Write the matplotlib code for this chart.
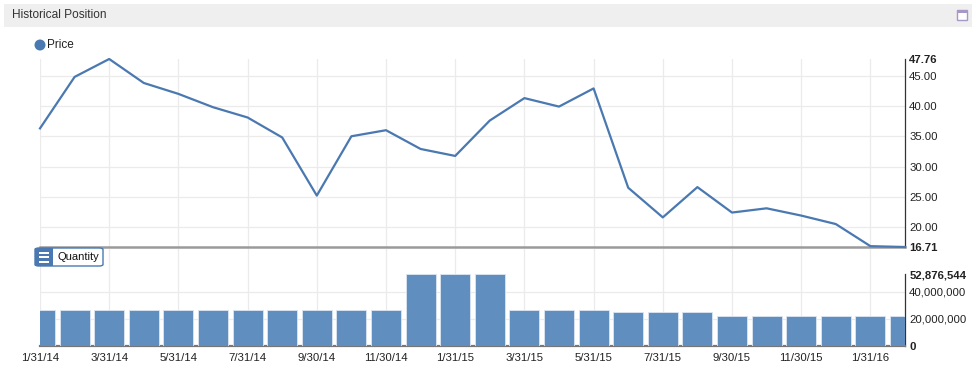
import numpy as np
import matplotlib.pyplot as plt
from matplotlib.patches import Rectangle, FancyBboxPatch, Ellipse

# month-end dates (category axis)
dates = ['1/31/14', '2/28/14', '3/31/14', '4/30/14', '5/31/14', '6/30/14',
         '7/31/14', '8/31/14', '9/30/14', '10/31/14', '11/30/14', '12/31/14',
         '1/31/15', '2/28/15', '3/31/15', '4/30/15', '5/31/15', '6/30/15',
         '7/31/15', '8/31/15', '9/30/15', '10/31/15', '11/30/15', '12/31/15',
         '1/31/16', '2/29/16']
price = [36.3, 44.8, 47.76, 43.8, 42.0, 39.8, 38.1, 34.8, 25.2, 35.0, 36.0, 32.9,
         31.75, 37.6, 41.3, 39.9, 42.9, 26.5, 21.6, 26.6, 22.4, 23.1, 21.9, 20.5,
         16.85, 16.71]
quantity = [26400000] * 11 + [52876544] * 3 + [26400000] * 3 + [25200000] * 3 + [22000000] * 6

price_ticks = [16.71, 20, 25, 30, 35, 40, 45, 47.76]
qty_ticks = [0, 20000000, 40000000, 52876544]

W, H = 975, 367
LINE = '#4a78b0'
BAR = '#5f8ebf'
GRID = '#ebebeb'

plt.rcParams['font.family'] = ['Liberation Sans', 'DejaVu Sans']

fig = plt.figure(figsize=(W / 100, H / 100), dpi=100)


def box(x0, y0, x1, y1):
    # pixel box (top-left origin) -> figure fraction rect
    return [x0 / W, 1 - y1 / H, (x1 - x0) / W, (y1 - y0) / H]


def fx(x):
    return x / W


def fy(y):
    return 1 - y / H


# header bar
fig.patches.append(Rectangle((fx(4), fy(27)), 968 / W, 23 / H, transform=fig.transFigure,
                             facecolor='#efefef', edgecolor='none'))
fig.text(fx(12), fy(15.5), 'Historical Position', fontsize=8.6, color='#333333', va='center', ha='left')
fig.patches.append(Rectangle((fx(957), fy(20)), 10 / W, 10 / H, transform=fig.transFigure,
                             facecolor='white', edgecolor='#a898c8', lw=1))
fig.patches.append(Rectangle((fx(957), fy(13)), 10 / W, 3 / H, transform=fig.transFigure,
                             facecolor='#a898c8', edgecolor='none'))

x = np.arange(len(dates))

# ---- price panel
ax = fig.add_axes(box(40, 59, 905, 247))
ax.plot(x, price, color=LINE, lw=1.6, solid_joinstyle='round', zorder=3, clip_on=False)
ax.set_xlim(0, len(dates) - 1)
ax.set_ylim(price_ticks[0], price_ticks[-1])
ax.set_xticks(x[::2])
ax.set_xticklabels([])
ax.tick_params(axis='x', length=0)
ax.yaxis.tick_right()
ax.set_yticks(price_ticks)
ax.set_yticklabels(['%.2f' % v for v in price_ticks])
ax.tick_params(axis='y', length=0, pad=3, labelsize=8.2, labelcolor='#222222')
for lab in ax.get_yticklabels():
    if lab.get_text() in ('16.71', '47.76'):
        lab.set_fontweight('bold')
ax.grid(True, color=GRID, lw=0.9)
ax.yaxis.get_gridlines()[0].set_visible(False)
ax.yaxis.get_gridlines()[-1].set_visible(False)
for s in ('top', 'left'):
    ax.spines[s].set_visible(False)
ax.spines['right'].set_color('#333333')
ax.spines['right'].set_linewidth(0.9)
ax.spines['bottom'].set_color('#9a9a9a')
ax.spines['bottom'].set_linewidth(1.8)

# legend
fig.patches.append(Ellipse((fx(40), fy(45)), 11 / W, 11 / H, transform=fig.transFigure,
                           facecolor=LINE, edgecolor='none'))
fig.text(fx(47), fy(45), 'Price', fontsize=8.5, color='#222222', va='center', ha='left')

# ---- quantity panel
top_px, bot_px, max_px = 249, 345.7, 274.3
qmax = qty_ticks[-1]
qtop = qmax * (bot_px - top_px) / (bot_px - max_px)
bx = fig.add_axes(box(40, top_px, 905, bot_px))
bx.bar(x, quantity, width=0.87, color=BAR, edgecolor='#dce6f1', lw=0.6, zorder=3)
bx.set_xlim(0, len(dates) - 1)
bx.set_ylim(0, qtop)
bx.set_xticks(x[::2])
bx.set_xticklabels(dates[::2])
bx.tick_params(axis='x', length=0, pad=5, labelsize=8.2, labelcolor='#222222')
bx.yaxis.tick_right()
bx.set_yticks(qty_ticks)
bx.set_yticklabels(['{:,}'.format(v) for v in qty_ticks])
bx.tick_params(axis='y', length=0, pad=3, labelsize=8.2, labelcolor='#222222')
for lab in bx.get_yticklabels():
    if lab.get_text() in ('0', '52,876,544'):
        lab.set_fontweight('bold')
bx.grid(True, color=GRID, lw=0.9, zorder=0)
bx.yaxis.get_gridlines()[0].set_visible(False)
bx.yaxis.get_gridlines()[-1].set_visible(False)
bx.set_axisbelow(True)
for s in ('top', 'left'):
    bx.spines[s].set_visible(False)
bx.spines['right'].set_bounds(0, qmax)
bx.spines['right'].set_color('#333333')
bx.spines['right'].set_linewidth(0.9)
bx.spines['bottom'].set_color('#777777')
bx.spines['bottom'].set_linewidth(1.6)

# "Quantity" button
fig.patches.append(FancyBboxPatch((fx(35), fy(266)), 68 / W, 18 / H, transform=fig.transFigure,
                                  boxstyle='round,pad=0,rounding_size=0.004',
                                  facecolor='white', edgecolor='#4a78b0', lw=1, zorder=5))
fig.patches.append(Rectangle((fx(35), fy(266)), 18 / W, 18 / H, transform=fig.transFigure,
                             facecolor='#4a78b0', edgecolor='none', zorder=6))
for yy in (252.5, 257, 261.5):
    fig.patches.append(Rectangle((fx(39), fy(yy + 1)), 10 / W, 2 / H, transform=fig.transFigure,
                                 facecolor='white', edgecolor='none', zorder=7))
fig.text(fx(57), fy(257.5), 'Quantity', fontsize=8, color='#111111', va='center', ha='left', zorder=8)

fig.savefig('out.png', dpi=100)
